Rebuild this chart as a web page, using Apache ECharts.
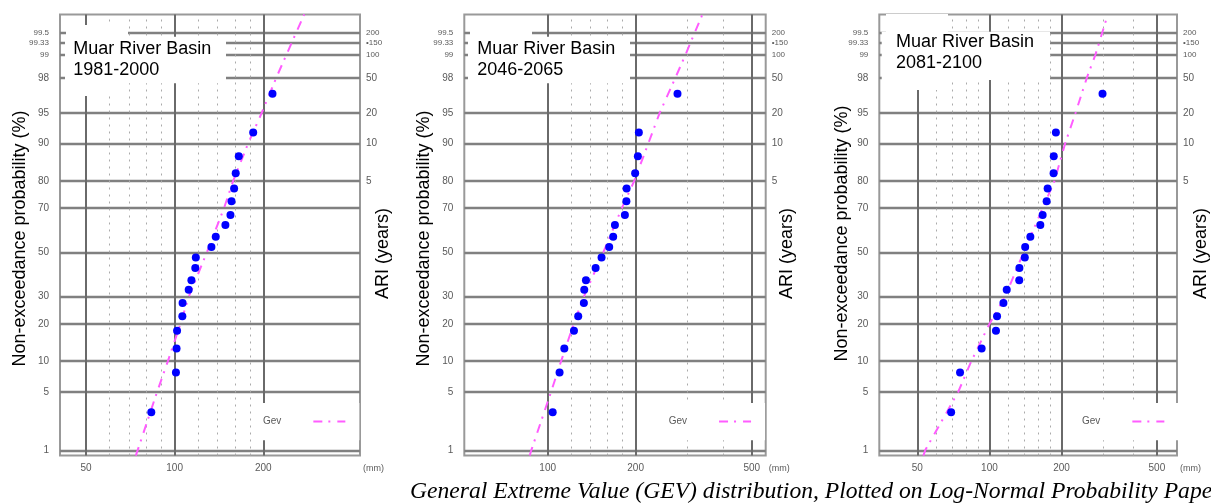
<!DOCTYPE html>
<html>
<head>
<meta charset="utf-8">
<script src="https://cdn.jsdelivr.net/npm/echarts@6/dist/echarts.min.js"></script>
<style>html,body{margin:0;padding:0;background:#fff}#c{width:1211px;height:504px}</style>
</head>
<body>
<div id="c"></div>
<script>
// ---------------- data ----------------
const PERIODS = ['1981-2000', '2046-2065', '2081-2100'];
// plotting-position probabilities (%) of the 20 annual maxima (same for each panel)
const PLOT_PROB = [3.0, 7.9, 12.9, 17.8, 22.6, 27.6, 33.0, 37.2, 42.7, 47.6, 52.5, 57.3, 62.6, 67.0, 72.6, 77.4, 82.4, 87.1, 92.1, 96.9];
// annual maximum rainfall (mm), sorted ascending
const MAX_1981 = [83.3, 101.0, 101.5, 101.9, 106.2, 106.4, 111.6, 114.0, 117.5, 118.0, 133.3, 137.9, 148.7, 154.7, 156.0, 159.2, 161.2, 165.1, 184.8, 214.9];
const MAX_2046 = [104.0, 109.8, 114.0, 123.0, 127.2, 133.0, 133.4, 135.2, 145.9, 152.9, 162.4, 167.6, 169.9, 183.8, 186.0, 186.3, 199.3, 203.6, 205.2, 278.3];
const MAX_2081 = [69.2, 75.4, 92.8, 106.5, 107.6, 114.4, 118.1, 133.2, 133.4, 140.5, 141.0, 148.2, 163.1, 166.8, 173.3, 175.0, 185.3, 185.6, 189.4, 296.6];
// fitted GEV curve: probabilities (%) and rainfall (mm)
const GEV_PROB = [0.84, 1, 5, 10, 20, 30, 50, 70, 80, 90, 95, 98, 99, 99.5, 99.745];
const GEV_1981 = [73.8, 74.9, 87.1, 94.8, 104.6, 111.6, 128.6, 147.2, 158.0, 177.6, 197.7, 221.2, 239.6, 257.7, 275.5];
const GEV_2046 = [86.8, 87.9, 102.6, 111.1, 122.7, 132.8, 155.0, 179.6, 197.9, 221.0, 242.0, 273.6, 296.4, 317.8, 338.8];
const GEV_2081 = [53.0, 54.0, 74.0, 84.0, 100.0, 116.0, 139.0, 167.0, 187.0, 207.0, 229.0, 255.0, 277.0, 295.0, 312.0];
// probability grid and tick labels
const PROB_TICKS = [1, 5, 10, 20, 30, 50, 70, 80, 90, 95, 98, 99, 99.333, 99.5];
const PROB_LABELS = ['1', '5', '10', '20', '30', '50', '70', '80', '90', '95', '98', '99', '99.33', '99.5'];
const ARI_PROB = [80, 90, 95, 98, 99, 99.333, 99.5];
const ARI_LABELS = ['5', '10', '20', '50', '100', '\u2022150', '200'];
// rainfall grid lines (mm)
const MAJOR_X = [[50, 100, 200], [100, 200, 500], [50, 100, 200, 500]];
const MINOR_X = [[60, 70, 80, 90, 120, 140, 160, 180], [120, 140, 160, 180, 300, 400], [60, 70, 80, 90, 120, 140, 160, 180, 300, 400]];
const MAXIMA = [MAX_1981, MAX_2046, MAX_2081];
const GEVS = [GEV_1981, GEV_2046, GEV_2081];

// ---------------- normal probability scale ----------------
function probit(p) {
  const a = [-3.969683028665376e+01, 2.209460984245205e+02, -2.759285104469687e+02, 1.383577518672690e+02, -3.066479806614716e+01, 2.506628277459239e+00];
  const b = [-5.447609879822406e+01, 1.615858368580409e+02, -1.556989798598866e+02, 6.680131188771972e+01, -1.328068155288572e+01];
  const c = [-7.784894002430293e-03, -3.223964580411365e-01, -2.400758277161838e+00, -2.549732539343734e+00, 4.374664141464968e+00, 2.938163982698783e+00];
  const d = [7.784695709041462e-03, 3.224671290700398e-01, 2.445134137142996e+00, 3.754408661907416e+00];
  const plow = 0.02425, phigh = 1 - plow;
  let q, r;
  if (p < plow) { q = Math.sqrt(-2 * Math.log(p)); return (((((c[0]*q+c[1])*q+c[2])*q+c[3])*q+c[4])*q+c[5]) / ((((d[0]*q+d[1])*q+d[2])*q+d[3])*q+1); }
  if (p <= phigh) { q = p - 0.5; r = q*q; return (((((a[0]*r+a[1])*r+a[2])*r+a[3])*r+a[4])*r+a[5])*q / (((((b[0]*r+b[1])*r+b[2])*r+b[3])*r+b[4])*r+1); }
  q = Math.sqrt(-2 * Math.log(1 - p)); return -(((((c[0]*q+c[1])*q+c[2])*q+c[3])*q+c[4])*q+c[5]) / ((((d[0]*q+d[1])*q+d[2])*q+d[3])*q+1);
}
const z = p => probit(p / 100);

// ---------------- layout ----------------
const Z_MIN = -2.39, Z_MAX = 2.80;
const LAYOUT = [
  { left: 60, width: 300, xMin: 40.8, xMax: 426, gapL: 31, gapR: 14, padL: 7, boxA: [65, 36.7, 161, 46.6], textA: [73.3, 38.4], boxB: [66, 25, 62, 71], legendLeft: 253 },
  { left: 464.3, width: 301.4, xMin: 51.8, xMax: 558, gapL: 31, gapR: 12, padL: 7, boxA: [468, 36.7, 162, 46.6], textA: [477.3, 38.4], boxB: [470, 25, 62, 71], legendLeft: 658.7 },
  { left: 879.3, width: 300, xMin: 34.7, xMax: 606.8, gapL: 28, gapR: 15, padL: -3, boxA: [881.7, 31.7, 168.3, 48.3], textA: [896, 31.8], boxB: [886, 14, 62, 76], legendLeft: 1072 }
];
const GRID_TOP = 14.5, GRID_H = 441;
const LABEL_FONT = 'Liberation Sans';
const TICK_COLOR = '#5a5a5a';
const H_LINE = { color: '#808080', width: 2.4, type: 'solid' };
const V_LINE = { color: '#6a6a6a', width: 2, type: 'solid' };
const MINOR_LINE = { color: '#aaa', width: 1, type: [2, 5] };
const GEV_COLOR = '#ff5cff';

const grid = [], xAxis = [], yAxis = [], series = [], legend = [], graphic = [];
LAYOUT.forEach((L, i) => {
  grid.push({ left: L.left, width: L.width, top: GRID_TOP, height: GRID_H, show: true, borderColor: '#999', borderWidth: 2 });
  xAxis.push({
    type: 'log', logBase: 10, gridIndex: i, min: L.xMin, max: L.xMax, position: 'bottom',
    axisLine: { show: false, onZero: false }, axisTick: { show: false }, axisLabel: { show: false }, splitLine: { show: false },
    name: '(mm)', nameLocation: 'end', nameGap: 3,
    nameTextStyle: { fontSize: 9, color: TICK_COLOR, fontFamily: LABEL_FONT, verticalAlign: 'top', padding: [9, 0, 0, 0], align: 'left' }
  });
  yAxis.push({
    type: 'value', gridIndex: i, min: Z_MIN, max: Z_MAX, position: 'left',
    axisLine: { show: false, onZero: false }, axisTick: { show: false }, axisLabel: { show: false }, splitLine: { show: false },
    name: 'Non-exceedance probability (%)', nameLocation: 'middle', nameRotate: 90, nameGap: L.gapL,
    nameTextStyle: { fontSize: 18, color: '#000', fontFamily: LABEL_FONT, padding: L.padL >= 0 ? [0, L.padL, 0, 0] : [0, 0, 0, -L.padL] }
  });
  yAxis.push({
    type: 'value', gridIndex: i, min: Z_MIN, max: Z_MAX, position: 'right',
    axisLine: { show: false, onZero: false }, axisTick: { show: false }, axisLabel: { show: false }, splitLine: { show: false },
    name: 'ARI (years)', nameLocation: 'middle', nameRotate: 90, nameGap: L.gapR,
    nameTextStyle: { fontSize: 18, color: '#000', fontFamily: LABEL_FONT, padding: [0, 37, 0, 0] }
  });
  const xi = i, yi = 2 * i;
  const lbl = { color: TICK_COLOR, fontSize: 10, fontFamily: LABEL_FONT };
  // horizontal probability grid + left labels
  series.push({
    type: 'line', xAxisIndex: xi, yAxisIndex: yi, data: [], silent: true,
    markLine: {
      z: 1, silent: true, symbol: 'none', animation: false, lineStyle: H_LINE,
      label: Object.assign({ position: 'start', distance: 11 }, lbl),
      emphasis: { disabled: true },
      data: PROB_TICKS.map((p, k) => ({ yAxis: z(p), label: { formatter: PROB_LABELS[k], fontSize: p >= 99 ? 8 : 10 } }))
    }
  });
  // right ARI labels (on invisible lines)
  series.push({
    type: 'line', xAxisIndex: xi, yAxisIndex: yi, data: [], silent: true,
    markLine: {
      z: 1, silent: true, symbol: 'none', animation: false, lineStyle: { color: 'rgba(0,0,0,0)', width: 0.1 },
      label: Object.assign({ show: true, position: 'end', distance: 6 }, lbl),
      emphasis: { disabled: true },
      data: ARI_PROB.map((p, k) => ({ yAxis: z(p), label: { formatter: ARI_LABELS[k], fontSize: p >= 99 ? 8 : 10 } }))
    }
  });
  // major rainfall lines + bottom labels
  series.push({
    type: 'line', xAxisIndex: xi, yAxisIndex: yi, data: [], silent: true,
    markLine: {
      z: 1, silent: true, symbol: 'none', animation: false, lineStyle: V_LINE,
      label: Object.assign({ position: 'start', distance: 8 }, lbl),
      emphasis: { disabled: true },
      data: MAJOR_X[i].map(v => ({ xAxis: v, label: { formatter: String(v) } }))
    }
  });
  // minor dotted rainfall lines
  series.push({
    type: 'line', xAxisIndex: xi, yAxisIndex: yi, data: [], silent: true,
    markLine: {
      z: 1, silent: true, symbol: 'none', animation: false, lineStyle: MINOR_LINE, label: { show: false },
      emphasis: { disabled: true },
      data: MINOR_X[i].map(v => ({ xAxis: v }))
    }
  });
  // GEV fit
  series.push({
    name: 'Gev', type: 'line', xAxisIndex: xi, yAxisIndex: yi, z: 3, symbol: 'none', showSymbol: false, clip: true, animation: false,
    lineStyle: { color: GEV_COLOR, width: 2, type: [9, 6, 2, 7] }, itemStyle: { color: GEV_COLOR },
    data: GEVS[i].map((x, k) => [x, z(GEV_PROB[k])])
  });
  // observed maxima
  series.push({
    name: 'Observed', type: 'scatter', xAxisIndex: xi, yAxisIndex: yi, z: 4, symbol: 'circle', symbolSize: 8, animation: false,
    itemStyle: { color: '#0000ff', opacity: 1 },
    data: MAXIMA[i].map((x, k) => [x, z(PLOT_PROB[k])])
  });
  legend.push({
    left: L.legendLeft, top: 403, align: 'right', orient: 'horizontal', selectedMode: false,
    data: [{ name: 'Gev', itemStyle: { opacity: 0 } }],
    itemStyle: { opacity: 0 },
    lineStyle: { color: GEV_COLOR, width: 2, type: [9, 6, 2, 7] },
    itemWidth: 32, itemHeight: 14, backgroundColor: '#fff', padding: [13, 13, 13, 10],
    textStyle: { fontSize: 10, color: TICK_COLOR, fontFamily: LABEL_FONT, padding: [0, 27, 0, 0] }
  });
  graphic.push({ type: 'rect', z: 10, silent: true, shape: { x: L.boxB[0], y: L.boxB[1], width: L.boxB[2], height: L.boxB[3] }, style: { fill: '#fff' } });
  graphic.push({ type: 'rect', z: 10, silent: true, shape: { x: L.boxA[0], y: L.boxA[1], width: L.boxA[2], height: L.boxA[3] }, style: { fill: '#fff' } });
  graphic.push({
    type: 'text', z: 11, silent: true, x: L.textA[0], y: L.textA[1],
    style: { text: 'Muar River Basin\n' + PERIODS[i], font: '18px "Liberation Sans"', lineHeight: 21, fill: '#000', verticalAlign: 'top', align: 'left' }
  });
});
graphic.push({
  type: 'text', z: 11, silent: true, x: 410, y: 492,
  style: { text: 'General Extreme Value (GEV) distribution, Plotted on Log-Normal Probability Paper', font: 'italic 23.62px "Liberation Serif"', fill: '#000', verticalAlign: 'middle', align: 'left' }
});

const chart = echarts.init(document.getElementById('c'), null, { renderer: 'canvas' });
chart.setOption({ animation: false, backgroundColor: '#fff', grid, xAxis, yAxis, series, legend, graphic });
</script>
</body>
</html>
